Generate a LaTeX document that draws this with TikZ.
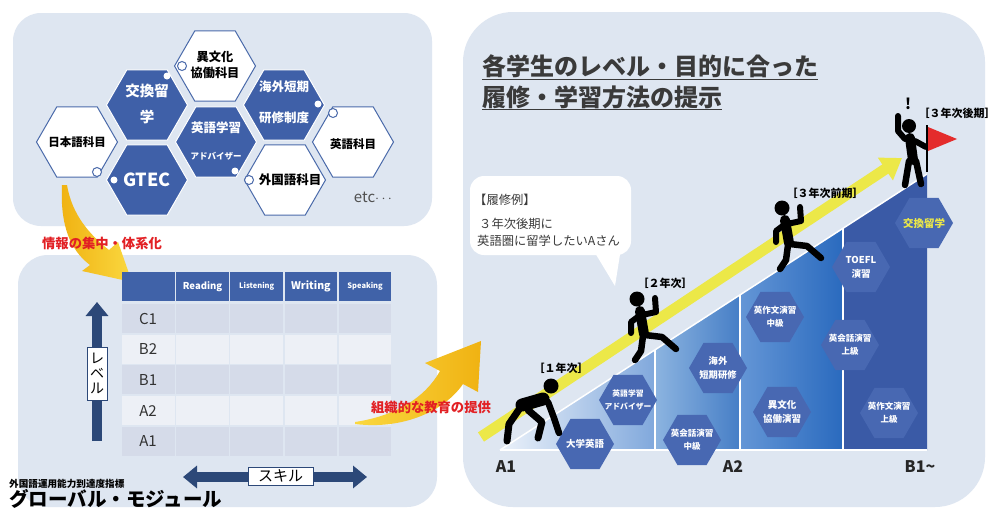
\documentclass[tikz,border=0pt]{standalone}
\usepackage{fontspec}
\setmainfont{Noto Sans CJK JP}
\usetikzlibrary{shapes.geometric,arrows.meta}

\definecolor{panelbg}{RGB}{222,230,241}
\definecolor{hexblue}{RGB}{63,96,168}
\definecolor{hexline}{RGB}{74,106,170}
\definecolor{ramphex}{RGB}{72,104,178}
\definecolor{navy}{RGB}{44,72,120}
\definecolor{tablehead}{RGB}{64,98,168}
\definecolor{rowdark}{RGB}{213,219,233}
\definecolor{rowlight}{RGB}{237,240,246}
\definecolor{tabtext}{RGB}{50,50,50}
\definecolor{bandyellow}{RGB}{236,232,72}
\definecolor{goldlight}{RGB}{250,216,64}
\definecolor{golddark}{RGB}{240,178,18}
\definecolor{alertred}{RGB}{226,32,36}
\definecolor{flagred}{RGB}{228,44,44}
\definecolor{titlegray}{RGB}{58,58,58}
\definecolor{etcgray}{RGB}{80,80,80}
\definecolor{stepAl}{RGB}{236,242,250}
\definecolor{stepAr}{RGB}{128,168,220}
\definecolor{stepBl}{RGB}{140,180,224}
\definecolor{stepBr}{RGB}{70,126,198}
\definecolor{stepCl}{RGB}{100,150,214}
\definecolor{stepCr}{RGB}{42,106,190}
\definecolor{stepD}{RGB}{58,90,166}

\begin{document}
\begin{tikzpicture}[
    x=1pt, y=-1pt,
    hexbase/.style={regular polygon, regular polygon sides=6, inner sep=0pt, line width=1pt},
    hexwhite/.style={hexbase, minimum size=81pt, fill=white, draw=hexline},
    hexdark/.style={hexbase, minimum size=81pt, fill=hexblue, draw=white},
    hexramp/.style={hexbase, minimum size=58pt, fill=ramphex},
    blk/.style={font=\bfseries\fontsize{#1}{#1}\selectfont, text=black, inner sep=0pt},
    wht/.style={font=\bfseries\fontsize{#1}{#1}\selectfont, text=white, inner sep=0pt},
    ramptxt/.style={font=\bfseries\fontsize{8.5}{13}\selectfont, text=white, align=center, inner sep=0pt},
    dot/.style={fill=white},
    ring/.style={fill=white, draw=hexline, line width=1pt},
    tagbox/.style={draw=navy, fill=white, line width=0.8pt, inner sep=1pt, align=center},
    navyarrow/.style={navy, line width=10pt, -{Triangle[width=22pt,length=14pt]}},
    redlabel/.style={font=\bfseries\fontsize{13.3}{13.3}\selectfont, text=alertred, inner sep=0pt},
    yrlabel/.style={font=\bfseries\fontsize{11}{11}\selectfont, text=black, inner sep=0pt},
    axlabel/.style={font=\bfseries\fontsize{16}{16}\selectfont, text=black!85, inner sep=0pt},
    body/.style={font=\fontsize{12.3}{12.3}\selectfont, text=titlegray, anchor=west, inner sep=0pt},
    fig/.style={draw=black, line cap=round, line join=round},
    runner/.pic={
        \fill (0,0) circle (7.5pt);
        \draw[fig, line width=10pt] (3,12) -- (7,35);
        \draw[fig, line width=6pt] (5,16) -- (19,13) -- (18,-1);
        \draw[fig, line width=6pt] (2,17) -- (-6,23) -- (-6,34);
        \draw[fig, line width=6.5pt] (8,36) -- (25,38) -- (39,50);
        \draw[fig, line width=6.5pt] (6,37) -- (4,52) -- (-2,61);
    }
]
\useasboundingbox (0,0) rectangle (995,509);
\fill[white] (0,0) rectangle (995,509);

% Panels
\fill[panelbg, rounded corners=28pt] (13,13) rectangle (432,226);
\fill[panelbg, rounded corners=30pt] (18,255) rectangle (437,507);
\fill[panelbg, rounded corners=50pt] (463,12) rectangle (985,507);

% Course hexagons
\node[hexwhite, label={[blk=12.2, yshift=9pt]center:異文化}, label={[blk=12.2, yshift=-7pt]center:協働科目}] (ibunka) at (215,66) {};
\node[hexdark, label={[wht=14.5, yshift=14pt]center:交換留}, label={[wht=14.5, yshift=-12pt]center:学}] (koukan) at (147,105) {};
\node[hexdark, label={[wht=12.5, yshift=18pt]center:海外短期}, label={[wht=12.5, yshift=-13pt]center:研修制度}] (kaigai) at (284,105) {};
\node[hexwhite, label={[blk=11.5]center:日本語科目}] (nihongo) at (77,142) {};
\node[hexdark, label={[wht=12.5, yshift=14pt]center:英語学習}, label={[wht=8.5, yshift=-14pt]center:アドバイザー}] (advisor) at (216,142) {};
\node[hexwhite, label={[blk=11.5, yshift=-2pt]center:英語科目}] (eigo) at (353,142) {};
\node[hexdark, label={[wht=18]center:GTEC}] (gtec) at (147,180) {};
\node[hexwhite, label={[blk=12.5, xshift=5pt]center:外国語科目}] (gaikoku) at (285,180) {};

% Corner dots
\fill[dot] (167,76) circle (3.5pt);
\fill[dot] (318,104) circle (3.5pt);
\fill[dot] (114,180) circle (3.5pt);
\fill[dot] (235,171) circle (3.5pt);
\filldraw[ring] (182,66) circle (4.5pt);
\filldraw[ring] (333,113) circle (4.5pt);
\filldraw[ring] (97,172) circle (4.5pt);
\filldraw[ring] (249,180) circle (4.5pt);

\node[font=\fontsize{15}{15}\selectfont, text=etcgray, inner sep=0pt] (etc) at (373,197) {etc$\cdots$};

% Arrow into the table
\shade[left color=golddark, right color=goldlight]
    (62,185) .. controls (60,225) and (70,250) .. (90,265) -- (82,271) -- (132,282)
    -- (118,242) -- (109,250) .. controls (90,235) and (72,215) .. (67,185) -- cycle;
\node[redlabel] (collect) at (102,243) {情報の集中・体系化};

% Level / skill table
\foreach \c in {0,...,4}
    \fill[tablehead] ({122+\c*54.2},272) rectangle +(52.6,29);
\foreach \sk/\fs [count=\c] in {Reading/9.5, Listening/7.5, Writing/10.5, Speaking/7.5}
    \node[wht=\fs] (skill-\c) at ({122+\c*54.2+26.3},286.5) {\sk};
\foreach \lv/\rc [count=\r] in {C1/rowdark, B2/rowlight, B1/rowdark, A2/rowlight, A1/rowdark} {
    \foreach \c in {0,...,4}
        \fill[\rc] ({122+\c*54.2},{304+(\r-1)*30.7}) rectangle +(52.6,29);
    \node[font=\fontsize{15}{15}\selectfont, text=tabtext, inner sep=0pt] (lv-\lv) at (148,{318.5+(\r-1)*30.7}) {\lv};
}

% Axes of the table
\draw[navyarrow] (97,441) -- (97,302);
\node[tagbox, minimum width=20pt, minimum height=53pt, font=\fontsize{14}{15}\selectfont] (levelbox) at (97,373.5) {レ\\ベ\\ル};
\draw[navyarrow, {Triangle[width=22pt,length=14pt]}-{Triangle[width=22pt,length=14pt]}] (183,477) -- (367,477);
\node[tagbox, minimum width=65pt, minimum height=18pt, font=\fontsize{15}{15}\selectfont] (skillbox) at (280.5,476) {スキル};

\node[blk=9.6, anchor=west] (indexname) at (9,484) {外国語運用能力到達度指標};
\node[blk=19.5, anchor=west] (module) at (9,499) {グローバル・モジュール};

% Arrow out to the course plan
\shade[left color=goldlight, right color=golddark]
    (355,422) .. controls (395,416) and (425,398) .. (440,371) -- (425,363) -- (481,341)
    -- (478,392) -- (463,384) .. controls (445,410) and (405,430) .. (355,424) -- cycle;
\node[redlabel] (provide) at (431,407) {組織的な教育の提供};

% Title
\node[blk=24, text=titlegray, anchor=west] (title1) at (482,66.5) {各学生のレベル・目的に合った};
\node[blk=24, text=titlegray, anchor=west] (title2) at (482,97) {履修・学習方法の提示};
\draw[titlegray, line width=1.3pt] ([yshift=-1pt]title1.south west) -- ([yshift=-1pt]title1.south east);
\draw[titlegray, line width=1.3pt] ([yshift=-1pt]title2.south west) -- ([yshift=-1pt]title2.south east);

% Example bubble
\node[fill=white, rounded corners=14pt, minimum width=161pt, minimum height=79pt] (example) at (550.5,215.5) {};
\coordinate (tailtip) at (615,286);
\fill[white] ([xshift=-36pt,yshift=2pt]example.south east) -- (tailtip) -- ([xshift=-11pt,yshift=2pt]example.south east) -- cycle;
\node[body] (exhead) at (474,200) {【履修例】};
\node[body] (exline1) at (479,223.5) {３年次後期に};
\node[body] (exline2) at (477,240.5) {英語圏に留学したいAさん};

% Ramp steps
\shade[left color=stepAl, right color=stepAr] (500,450) -- (655,450) -- (655,349.5) -- cycle;
\shade[left color=stepBl, right color=stepBr] (655,450) -- (740,450) -- (740,295) -- (655,349.5) -- cycle;
\shade[left color=stepCl, right color=stepCr] (740,450) -- (843,450) -- (843,228.4) -- (740,295) -- cycle;
\fill[stepD] (843,450) -- (927,450) -- (927,174) -- (843,228.4) -- cycle;
\draw[white, line width=1.5pt] (500,450) -- (927,450);
\draw[white, line width=1.5pt] (500,450) -- (927,174);
\foreach \sx/\sy in {655/349.5, 740/295, 843/228.4}
    \draw[white, line width=1.5pt] (\sx,450) -- (\sx,\sy);

% Courses on the ramp
\node[hexramp, label={[ramptxt, font=\bfseries\fontsize{9.5}{12}\selectfont]center:大学英語}] (daigaku) at (585,444) {};
\node[hexramp, label={[ramptxt, font=\bfseries\fontsize{7.8}{13}\selectfont]center:{英語学習\\アドバイザー}}] (advisor2) at (628,400) {};
\node[hexramp, label={[ramptxt]center:{英会話演習\\中級}}] (kaiwa1) at (692,440) {};
\node[hexramp, label={[ramptxt, font=\bfseries\fontsize{9.3}{14}\selectfont]center:{海外\\短期研修}}] (kaigai2) at (718,368) {};
\node[hexramp, label={[ramptxt]center:{英作文演習\\中級}}] (sakubun1) at (775,317) {};
\node[hexramp, label={[ramptxt, font=\bfseries\fontsize{9.5}{14}\selectfont]center:{異文化\\協働演習}}] (ibunka2) at (782,412) {};
\node[hexramp, label={[ramptxt, font=\bfseries\fontsize{9.5}{14}\selectfont]center:{TOEFL\\演習}}] (toefl) at (861,267) {};
\node[hexramp, label={[ramptxt]center:{英会話演習\\上級}}] (kaiwa2) at (850,345) {};
\node[hexramp, label={[ramptxt]center:{英作文演習\\上級}}] (sakubun2) at (889,413) {};
\node[hexramp, label={[ramptxt, font=\bfseries\fontsize{10.5}{12}\selectfont, text=bandyellow]center:交換留学}] (koukan2) at (924,223) {};

% Progress arrow
\coordinate (bandstart) at (481,437);
\coordinate (bandend) at (902,158);
\draw[bandyellow, line width=11pt, -{Triangle[width=26pt,length=20pt]}] (bandstart) -- (bandend);

% Students
\fill (551,386) circle (7.5pt);
\draw[fig, line width=13pt] (543,399) -- (522,405);
\draw[fig, line width=6.5pt] (548,402) -- (554,418) -- (559,433);
\draw[fig, line width=7pt] (520,408) -- (509,424) -- (507,441);
\draw[fig, line width=7pt] (528,410) -- (542,422) -- (538,438);
\pic (run2) at (637,299) {runner};
\pic (run3) at (782,208) {runner};
\node[blk=15] (shout) at (908,104) {!};
\fill (909,126) circle (7pt);
\draw[fig, line width=10pt] (910,138) -- (913,160);
\draw[fig, line width=6pt] (905,139) -- (898,131) -- (898,116);
\draw[fig, line width=6pt] (915,141) -- (926,147);
\draw[fig, line width=6.5pt] (909,161) -- (905,185);
\draw[fig, line width=6.5pt] (916,161) -- (921,184);
\draw[line width=2pt] (927,125) -- (927,172);
\fill[flagred] (928,127) -- (957,139) -- (928,151) -- cycle;

% Year labels
\node[yrlabel] (year1) at (561,368) {［１年次］};
\node[yrlabel] (year2) at (665,283) {［２年次］};
\node[yrlabel] (year3a) at (825,193) {［３年次前期］};
\node[yrlabel] (year3b) at (957,113) {［３年次後期］};

% Level axis
\node[axlabel] (axA1) at (506,467) {A1};
\node[axlabel] (axA2) at (733,467) {A2};
\node[axlabel] (axB1) at (920,467) {B1\textasciitilde};

\end{tikzpicture}
\end{document}
